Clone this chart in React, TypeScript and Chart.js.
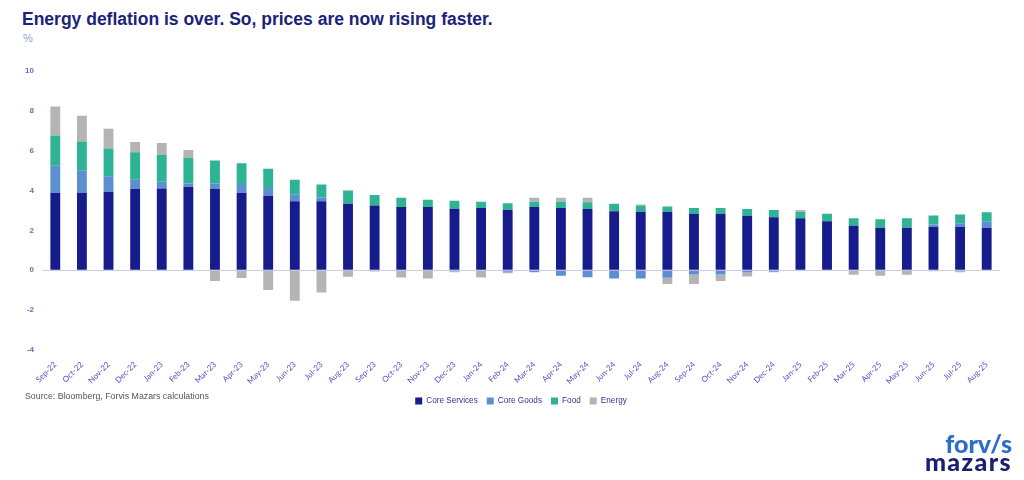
import React, { useEffect, useRef } from "react";
import { Chart, registerables } from "chart.js";

Chart.register(...registerables);

const categories = [
  "Sep-22", "Oct-22", "Nov-22", "Dec-22", "Jan-23", "Feb-23", "Mar-23", "Apr-23", "May-23",
  "Jun-23", "Jul-23", "Aug-23", "Sep-23", "Oct-23", "Nov-23", "Dec-23", "Jan-24", "Feb-24",
  "Mar-24", "Apr-24", "May-24", "Jun-24", "Jul-24", "Aug-24", "Sep-24", "Oct-24", "Nov-24",
  "Dec-24", "Jan-25", "Feb-25", "Mar-25", "Apr-25", "May-25", "Jun-25", "Jul-25", "Aug-25",
];

const coreServices = [
  3.87, 3.87, 3.93, 4.07, 4.1, 4.17, 4.07, 3.87, 3.73, 3.46, 3.46, 3.33, 3.25, 3.17, 3.17, 3.08,
  3.12, 3.02, 3.17, 3.12, 3.07, 2.96, 2.93, 2.93, 2.83, 2.83, 2.73, 2.65, 2.6, 2.46, 2.23, 2.13,
  2.13, 2.18, 2.18, 2.13,
];

const coreGoods = [
  1.4, 1.15, 0.79, 0.47, 0.34, 0.18, 0.28, 0.45, 0.39, 0.32, 0.19, 0, -0.03, 0, 0, -0.05,
  0, -0.08, -0.1, -0.28, -0.36, -0.42, -0.42, -0.38, -0.22, -0.22, -0.12, -0.08, 0, 0, 0, 0,
  0, 0.11, 0.17, 0.3,
];

const food = [
  1.49, 1.44, 1.39, 1.38, 1.35, 1.29, 1.16, 1.05, 0.97, 0.76, 0.65, 0.67, 0.52, 0.46, 0.37, 0.4,
  0.32, 0.34, 0.27, 0.32, 0.34, 0.37, 0.32, 0.27, 0.29, 0.29, 0.34, 0.37, 0.33, 0.37, 0.37, 0.42,
  0.47, 0.46, 0.44, 0.48,
];

const energy = [
  1.46, 1.29, 0.99, 0.52, 0.6, 0.39, -0.55, -0.4, -1.0, -1.54, -1.12, -0.33, -0.04, -0.37, -0.42,
  -0.06, -0.37, -0.08, 0.2, 0.2, 0.23, 0, 0.05, -0.32, -0.48, -0.33, -0.2, -0.03, 0.09, 0, -0.23,
  -0.28, -0.23, -0.05, -0.1, 0,
];

const seriesNames = ["Core Services", "Core Goods", "Food", "Energy"];
const seriesColors = ["#161c8c", "#5b8fd2", "#2eb395", "#b4b4b4"];

const yMin = -4;
const yMax = 10;
const yStep = 2;

export default function App() {
  const canvasRef = useRef<HTMLCanvasElement | null>(null);

  useEffect(() => {
    if (!canvasRef.current) return;
    const values = [coreServices, coreGoods, food, energy];
    const chart = new Chart(canvasRef.current, {
      type: "bar",
      data: {
        labels: categories,
        datasets: seriesNames.map((name, i) => ({
          label: name,
          data: values[i],
          backgroundColor: seriesColors[i],
          borderWidth: 0,
          categoryPercentage: 1,
          barPercentage: 0.37,
        })),
      },
      options: {
        animation: false,
        responsive: false,
        maintainAspectRatio: false,
        layout: { padding: { top: 71, right: 24, bottom: 65, left: 0 } },
        plugins: {
          tooltip: { enabled: false },
          legend: {
            position: "bottom",
            fullSize: false,
            labels: {
              boxWidth: 7,
              boxHeight: 7,
              padding: 9,
              color: "#2f3596",
              font: { family: "Liberation Sans", size: 8.2 },
            },
          },
        },
        scales: {
          x: {
            stacked: true,
            grid: { display: false },
            border: { display: false },
            ticks: {
              color: "#5050c8",
              font: { family: "Lato", size: 8 },
              minRotation: 45,
              maxRotation: 45,
              autoSkip: false,
              padding: 2,
            },
            afterFit: (s: any) => {
              s.height = 38;
            },
          },
          y: {
            stacked: true,
            min: yMin,
            max: yMax,
            border: { display: false },
            grid: {
              drawTicks: false,
              color: (ctx: any) => (ctx.tick && ctx.tick.value === 0 ? "#c9cbe8" : "rgba(0,0,0,0)"),
            },
            ticks: {
              stepSize: yStep,
              color: "#6b6bc0",
              font: { family: "Liberation Sans", size: 8, weight: "bold" },
              padding: 8,
            },
            afterFit: (s: any) => {
              s.width = 42;
            },
          },
        },
      },
    });
    return () => chart.destroy();
  }, []);

  return (
    <div
      style={{
        position: "fixed",
        left: 0,
        top: 0,
        width: 1024,
        height: 480,
        background: "#ffffff",
        overflow: "hidden",
      }}
    >
      <div
        style={{
          position: "absolute",
          left: 22,
          top: 9,
          fontFamily: "Liberation Sans, Arial, sans-serif",
          fontWeight: "bold",
          fontSize: 17.5,
          color: "#1b237a",
          whiteSpace: "nowrap",
        }}
      >
        Energy deflation is over. So, prices are now rising faster.
      </div>
      <div
        style={{
          position: "absolute",
          left: 23,
          top: 32,
          fontFamily: "Liberation Sans, Arial, sans-serif",
          fontSize: 11,
          color: "#8ea3d8",
        }}
      >
        %
      </div>
      <canvas
        ref={canvasRef}
        width={1024}
        height={480}
        style={{ position: "absolute", left: 0, top: 0, width: 1024, height: 480 }}
      />
      <div
        style={{
          position: "absolute",
          left: 25,
          top: 391,
          fontFamily: "Liberation Sans, Arial, sans-serif",
          fontSize: 8.8,
          color: "#555555",
        }}
      >
        Source: Bloomberg, Forvis Mazars calculations
      </div>
      <div
        style={{
          position: "absolute",
          right: 12,
          top: 434,
          textAlign: "right",
          fontFamily: "Lato, sans-serif",
          fontWeight: 900,
          lineHeight: "18px",
        }}
      >
        <div style={{ color: "#2c6ccb", fontSize: 25 }}>forv/s</div>
        <div style={{ color: "#1a1f6e", fontSize: 25, letterSpacing: 1.4 }}>mazars</div>
      </div>
    </div>
  );
}
